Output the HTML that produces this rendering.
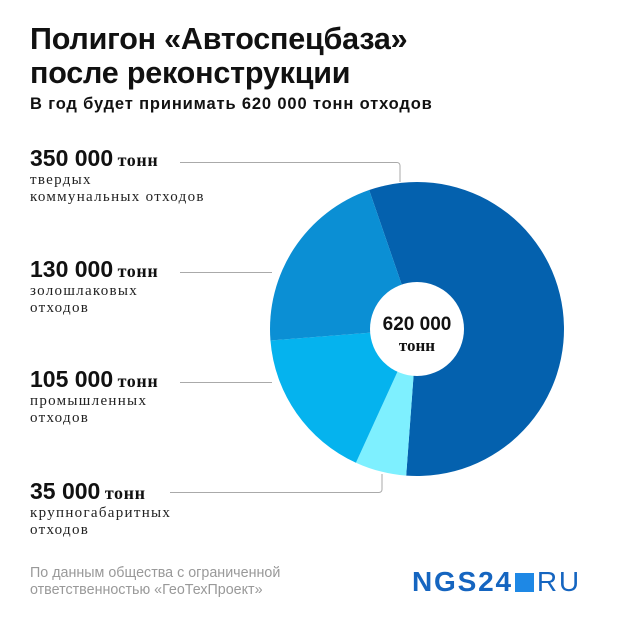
<!DOCTYPE html>
<html><head><meta charset="utf-8"><style>
body{margin:0;background:#fff;}
#w{position:relative;width:620px;height:620px;overflow:hidden;font-family:"Liberation Sans","Noto Sans CJK SC",sans-serif;color:#111;}
.t{position:absolute;left:30px;font-weight:bold;font-size:30.5px;line-height:34px;letter-spacing:-0.2px;}
.sub{position:absolute;left:30px;top:95px;font-weight:bold;font-size:16.5px;letter-spacing:0.85px;}
.lab{position:absolute;left:30px;}
.num{font-weight:bold;font-size:23px;}
.unit{font-family:"Liberation Serif",serif;font-weight:bold;font-size:18px;letter-spacing:0.6px;}
.desc{font-family:"Liberation Serif",serif;font-size:15px;line-height:17px;color:#222;letter-spacing:1.3px;}
.src{position:absolute;left:30px;top:565px;font-size:14.3px;line-height:17px;color:#999;}
.logo{position:absolute;left:412px;top:566px;font-weight:900;font-size:28px;color:#1565c0;letter-spacing:1.8px;}
</style></head><body>
<div id="w">
<div class="t" style="top:22px">Полигон «Автоспецбаза»<br>после реконструкции</div>
<div class="sub">В год будет принимать 620 000 тонн отходов</div>
<div class="lab" style="top:145px"><span class="num">350 000</span> <span class="unit">тонн</span><div class="desc">твердых<br>коммунальных отходов</div></div>
<div class="lab" style="top:256px"><span class="num">130 000</span> <span class="unit">тонн</span><div class="desc">золошлаковых<br>отходов</div></div>
<div class="lab" style="top:366px"><span class="num">105 000</span> <span class="unit">тонн</span><div class="desc">промышленных<br>отходов</div></div>
<div class="lab" style="top:478px"><span class="num">35 000</span> <span class="unit">тонн</span><div class="desc">крупногабаритных<br>отходов</div></div>
<svg id="chart" width="620" height="620" style="position:absolute;left:0;top:0">
<g fill="none" stroke="#aaa" stroke-width="1">
<path d="M180 162.5H397a3 3 0 0 1 3 3V182"/>
<path d="M180 272.5H272"/>
<path d="M180 382.5H272"/>
<path d="M170 492.5H379a3 3 0 0 0 3-3V474"/>
</g>
<g id="slices"></g>
<circle cx="417" cy="329" r="47" fill="#fff"/>
<text x="417" y="330" text-anchor="middle" font-family="Liberation Sans,sans-serif" font-weight="bold" font-size="19" fill="#111">620 000</text>
<text x="417" y="351" text-anchor="middle" font-family="Liberation Serif,serif" font-weight="bold" font-size="17" fill="#111">тонн</text>
</svg>
<div class="src">По данным общества с ограниченной<br>ответственностью «ГеоТехПроект»</div>
<div class="logo">NGS24<span style="display:inline-block;width:19px;height:19px;background:#1e88e5;margin:0 3px 0 2px;vertical-align:-1px"></span><span style="font-weight:normal">RU</span></div>
</div>
<script>
const categories=["твердые коммунальные","крупногабаритные","промышленные","золошлаковые"];
const values=[350000,35000,105000,130000];
const colors=["#0461ae","#7ef0ff","#05b3ee","#0b8fd4"];
const cx=417,cy=329,r=147,startDeg=-19;
const g=document.getElementById('slices');
const total=values.reduce((a,b)=>a+b,0);
let a=startDeg;
function pt(d){const t=d*Math.PI/180;return [cx+r*Math.sin(t),cy-r*Math.cos(t)];}
values.forEach((v,i)=>{
  const s=v/total*360,[x1,y1]=pt(a),[x2,y2]=pt(a+s);
  const p=document.createElementNS('http://www.w3.org/2000/svg','path');
  p.setAttribute('d',`M${cx} ${cy}L${x1} ${y1}A${r} ${r} 0 ${s>180?1:0} 1 ${x2} ${y2}Z`);
  p.setAttribute('fill',colors[i]);
  
  
  g.appendChild(p);a+=s;
});
</script>
</body></html>
